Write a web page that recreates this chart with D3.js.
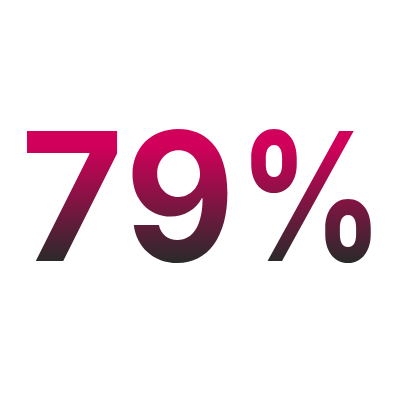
<!DOCTYPE html>
<html><head><meta charset="utf-8">
<script src="https://cdn.jsdelivr.net/npm/d3@7"></script>
<style>html,body{margin:0;padding:0;background:#fff;}</style>
</head><body>
<script>
const glyphs = ["7", "9", "%"];
const glyphCenters = [72, 180, 311];
const glyphScaleX = [0.99, 0.95, 0.8];
const gradientColors = ["#d1005a", "#d1005a", "#2a2a2a"];
const gradientStops = [0, 0.12, 1];

const W = 400, H = 400;
const svg = d3.select("body").append("svg").attr("width", W).attr("height", H);
const defs = svg.append("defs");
const grad = defs.append("linearGradient").attr("id", "g")
  .attr("gradientUnits", "userSpaceOnUse")
  .attr("x1", 0).attr("x2", 0).attr("y1", 130).attr("y2", 262);
grad.selectAll("stop").data(gradientColors).join("stop")
  .attr("offset", (d, i) => gradientStops[i]).attr("stop-color", d => d);

svg.selectAll("text.g").data(glyphs).join("text")
  .attr("class", "g")
  .attr("transform", (d, i) => `translate(${glyphCenters[i]},0) scale(${glyphScaleX[i]},1)`)
  .attr("x", 0).attr("y", 261)
  .attr("text-anchor", "middle")
  .attr("font-family", "Inter, 'Liberation Sans', sans-serif")
  .attr("font-weight", 700)
  .attr("font-size", 179)
  .attr("fill", "url(#g)")
  .text(d => d);
</script>
</body></html>
